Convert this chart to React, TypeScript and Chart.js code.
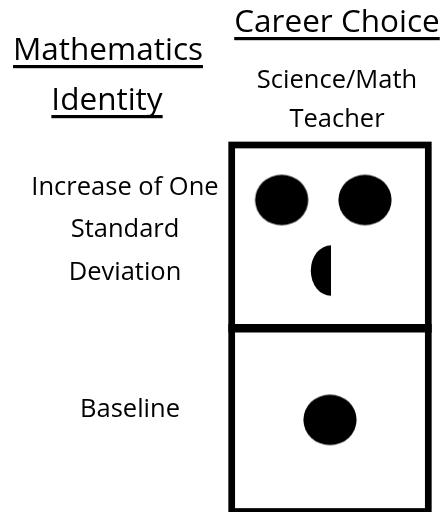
import React, { useEffect, useRef } from "react";
import { Chart, registerables } from "chart.js";

Chart.register(...registerables);

// ---- data ----
const rowHeading = ["Mathematics", "Identity"];
const columnHeading = "Career Choice";
const careerChoices = ["Science/Math\nTeacher"];
const identityLevels = ["Increase of One\nStandard\nDeviation", "Baseline"];
// dots shown per identity level (Harvey-ball style rating for the career)
const dotCounts = [2.5, 1];

const FONT = '"Open Sans", "Noto Sans", "Liberation Sans", sans-serif';
const INK = "#000000";

function makeDot(fraction: number): HTMLCanvasElement {
  const rx = 26.6;
  const ry = 25.3;
  const c = document.createElement("canvas");
  c.width = Math.ceil(rx * 2) + 2;
  c.height = Math.ceil(ry * 2) + 2;
  const g = c.getContext("2d")!;
  const cx = c.width / 2;
  const cy = c.height / 2;
  g.fillStyle = INK;
  g.beginPath();
  if (fraction >= 1) {
    g.ellipse(cx, cy, rx, ry, 0, 0, Math.PI * 2);
  } else {
    // partial dot: left half, narrowed
    const prx = rx * 0.76;
    g.ellipse(cx, cy, prx, ry, 0, Math.PI / 2, (Math.PI * 3) / 2);
    g.closePath();
  }
  g.fill();
  return c;
}

function dotLayout(count: number) {
  const full = Math.floor(count);
  const frac = count - full;
  const items: { dx: number; dy: number; f: number }[] = [];
  for (let i = 0; i < full; i++) items.push({ dx: 0, dy: 0, f: 1 });
  if (frac > 0) items.push({ dx: 0, dy: 0, f: frac });
  if (items.length === 1) return items;
  const perLine = 2;
  const lines = Math.ceil(items.length / perLine);
  const dyTop = -0.2;
  const dyStep = 0.385;
  const pairShift = -0.068;
  items.forEach((it, i) => {
    const line = Math.floor(i / perLine);
    const inLine = Math.min(perLine, items.length - line * perLine);
    const pos = i % perLine;
    it.dx = inLine === 1 ? 0.01 : pairShift + (pos - (inLine - 1) / 2) * 0.848;
    it.dy = lines === 1 ? 0 : dyTop + line * dyStep;
  });
  return items;
}

const labelsPlugin = {
  id: "figureText",
  afterDraw(chart: any) {
    const { ctx, chartArea, scales } = chart;
    const y = scales.y;
    ctx.save();
    ctx.fillStyle = INK;
    ctx.strokeStyle = INK;
    ctx.textAlign = "center";
    ctx.textBaseline = "alphabetic";

    // cell borders
    ctx.lineWidth = 6.7;
    ctx.strokeRect(
      chartArea.left,
      chartArea.top,
      chartArea.right - chartArea.left,
      chartArea.bottom - chartArea.top
    );
    for (let i = 1; i < identityLevels.length; i++) {
      const yy = y.getPixelForValue(i - 0.5);
      ctx.lineWidth = 8.3;
      ctx.beginPath();
      ctx.moveTo(chartArea.left - 3.35, yy);
      ctx.lineTo(chartArea.right + 3.35, yy);
      ctx.stroke();
    }

    const underlined = (text: string, x: number, base: number, size: number) => {
      ctx.font = `${size}px ${FONT}`;
      ctx.fillText(text, x, base);
      const w = ctx.measureText(text).width;
      ctx.fillRect(x - w / 2, base + 5, w, 3.2);
    };

    // headings
    underlined(rowHeading[0], 108, 60, 31.5);
    underlined(rowHeading[1], 107, 110, 31.5);
    underlined(columnHeading, 337, 32, 31.5);

    // column labels
    ctx.font = `25.5px ${FONT}`;
    careerChoices.forEach((lab) => {
      const lines = lab.split("\n");
      lines.forEach((ln, k) => ctx.fillText(ln, 337, 88 + k * 39));
    });

    // row labels
    identityLevels.forEach((lab, i) => {
      const lines = lab.split("\n");
      const cy = y.getPixelForValue(i);
      lines.forEach((ln, k) => {
        const base = cy + (k - (lines.length - 1) / 2) * 42.5 - 0.5 + (lines.length === 1 ? -2 : 1);
        ctx.fillText(ln, lines.length === 1 ? 130 : 125, base);
      });
    });
    ctx.restore();
  },
};

export default function App() {
  const ref = useRef<HTMLCanvasElement | null>(null);
  useEffect(() => {
    if (!ref.current) return;
    const points: any[] = [];
    const styles: any[] = [];
    dotCounts.forEach((cnt, row) => {
      dotLayout(cnt).forEach((d) => {
        points.push({ x: d.dx, y: row + d.dy });
        styles.push(makeDot(d.f));
      });
    });
    const chart = new Chart(ref.current, {
      type: "scatter",
      data: {
        datasets: [
          {
            label: careerChoices[0],
            data: points,
            pointStyle: styles,
            pointRadius: 26,
            backgroundColor: INK,
            borderColor: INK,
          },
        ],
      },
      options: {
        responsive: false,
        animation: false,
        events: [],
        layout: { autoPadding: false, padding: { left: 231.7, right: 11.7, top: 145, bottom: 0.5 } },
        scales: {
          x: { type: "linear", min: -1, max: 1, display: false },
          y: { type: "linear", min: -0.5, max: 1.5, reverse: true, display: false },
        },
        plugins: { legend: { display: false }, tooltip: { enabled: false } },
      },
      plugins: [labelsPlugin],
    } as any);
    return () => chart.destroy();
  }, []);
  return (
    <div style={{ position: "absolute", left: 0, top: 0, width: 440, height: 512, background: "#fff" }}>
      <canvas ref={ref} width={440} height={512} />
    </div>
  );
}
